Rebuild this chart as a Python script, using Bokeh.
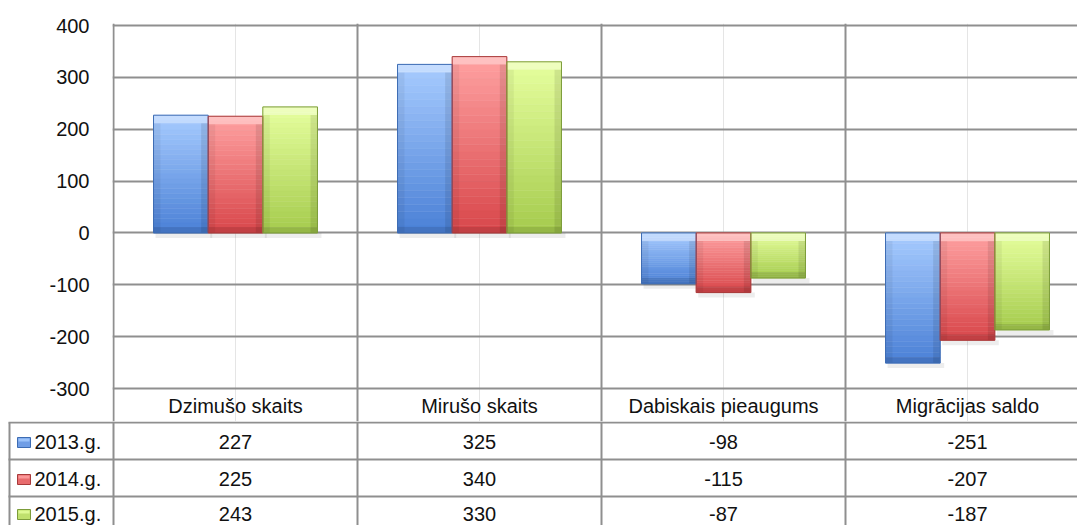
from bokeh.plotting import figure
from bokeh.models import Range1d, FixedTicker, Grid
from bokeh.core.properties import value
from bokeh.embed import file_html
from bokeh.resources import INLINE

# ---------------- data ----------------
categories = ["Dzimušo skaits", "Mirušo skaits", "Dabiskais pieaugums", "Migrācijas saldo"]
series = ["2013.g.", "2014.g.", "2015.g."]
v2013 = [227, 325, -98, -251]
v2014 = [225, 340, -115, -207]
v2015 = [243, 330, -87, -187]
y_ticks = [-300, -200, -100, 0, 100, 200, 300, 400]

values = [v2013, v2014, v2015]

# ---------------- style ----------------
top_cols = ["#a8ccff", "#ffa2a2", "#e6ff9e"]
bot_cols = ["#4a80d6", "#d8464a", "#a5cb4d"]
edge_cols = ["#3d6cb3", "#a83a3a", "#7c9c3a"]
GRID = "#8f8f8f"
FONT = "Liberation Sans"
FS = "20px"

W = 1077
LEFT = 112
CAT_W = 244.0
TOP_H = 421
FRAME_TOP = 23
BOT_H = 104
UPP = 700.0 / 363.0      # data units per pixel (y)
BAR_W = 0.224
OFFS = [-BAR_W, 0.0, BAR_W]
Y_MIN = y_ticks[0]
Y_MAX = y_ticks[-1]


def hex2rgb(h):
    h = h.lstrip("#")
    return tuple(int(h[i:i + 2], 16) for i in (0, 2, 4))


def mix(a, b, t):
    ra, rb = hex2rgb(a), hex2rgb(b)
    return "#%02x%02x%02x" % tuple(int(round(ra[i] + (rb[i] - ra[i]) * t)) for i in range(3))


p1 = figure(width=W, height=TOP_H,
            x_range=Range1d(-1.0 / CAT_W, (W - LEFT - 1) / CAT_W),
            y_range=Range1d(Y_MIN - 33 * UPP, Y_MAX + 2 * UPP),
            output_backend="svg", toolbar_location=None, x_axis_location=None,
            min_border_left=LEFT, min_border_right=0, min_border_top=FRAME_TOP,
            min_border_bottom=0)
p1.outline_line_color = None
p1.background_fill_color = "white"
p1.yaxis.ticker = FixedTicker(ticks=y_ticks)
p1.yaxis.major_label_overrides = {t: str(t) for t in y_ticks}
p1.yaxis.axis_line_color = None
p1.yaxis.major_tick_line_color = None
p1.yaxis.minor_tick_line_color = None
p1.yaxis.major_label_standoff = 17
p1.yaxis.major_label_text_font = FONT
p1.yaxis.major_label_text_font_size = FS
p1.yaxis.major_label_text_color = "#111111"
p1.ygrid.ticker = FixedTicker(ticks=y_ticks)
p1.ygrid.grid_line_color = GRID
p1.ygrid.grid_line_width = 2

vg = Grid(dimension=0, ticker=FixedTicker(ticks=list(range(len(categories)))),
          grid_line_color=GRID, grid_line_width=2)
p1.add_layout(vg)

# category header row (part of the data table, under the plot area)
p1.text(x=[j + 0.5 for j in range(len(categories))], y=[Y_MIN - 17.5 * UPP] * len(categories),
        text=categories, text_align="center", text_baseline="middle",
        text_font=value(FONT), text_font_size=value(FS), text_color="#111111")

# bars with a vertical gradient and bevel overlays
N = 24
gl, gr, gt, gb, gc = [], [], [], [], []
sl, sr, st, sb = [], [], [], []
for i, vals in enumerate(values):
    for j, v in enumerate(vals):
        cx = j + 0.5 + OFFS[i]
        l, r = cx - BAR_W / 2, cx + BAR_W / 2
        top, bot = max(v, 0), min(v, 0)
        h = top - bot
        for k in range(N):
            gl.append(l); gr.append(r)
            gt.append(top - h * k / N); gb.append(top - h * (k + 1) / N)
            gc.append(mix(top_cols[i], bot_cols[i], (k + 0.5) / N))
        sl.append(l + 2 / CAT_W); sr.append(r + 4 / CAT_W)
        st.append(bot); sb.append(bot - 5 * UPP)

p1.quad(left=sl, right=sr, top=st, bottom=sb, fill_color="#000000", fill_alpha=0.07, line_color=None)
p1.quad(left=gl, right=gr, top=gt, bottom=gb, fill_color=gc, line_color=gc, line_width=0.5)

bev_l, bev_r, bev_t, bev_b, bev_c, bev_a = [], [], [], [], [], []
for i, vals in enumerate(values):
    for j, v in enumerate(vals):
        cx = j + 0.5 + OFFS[i]
        l, r = cx - BAR_W / 2, cx + BAR_W / 2
        top, bot = max(v, 0), min(v, 0)
        bw = 7 / CAT_W
        bh = 8 * UPP
        bev_l.append(l); bev_r.append(r); bev_t.append(top); bev_b.append(top - bh)
        bev_c.append("#ffffff"); bev_a.append(0.35)
        bev_l.append(l); bev_r.append(l + bw); bev_t.append(top - bh); bev_b.append(bot)
        bev_c.append("#000000"); bev_a.append(0.05)
        bev_l.append(r - bw); bev_r.append(r); bev_t.append(top - bh); bev_b.append(bot)
        bev_c.append("#000000"); bev_a.append(0.09)
        bev_l.append(l); bev_r.append(r); bev_t.append(bot + 6 * UPP); bev_b.append(bot)
        bev_c.append("#000000"); bev_a.append(0.10)
p1.quad(left=bev_l, right=bev_r, top=bev_t, bottom=bev_b, fill_color=bev_c,
        fill_alpha=bev_a, line_color=None)

ol, orr, ot, ob, oc = [], [], [], [], []
for i, vals in enumerate(values):
    for j, v in enumerate(vals):
        cx = j + 0.5 + OFFS[i]
        ol.append(cx - BAR_W / 2); orr.append(cx + BAR_W / 2)
        ot.append(max(v, 0)); ob.append(min(v, 0)); oc.append(edge_cols[i])
p1.quad(left=ol, right=orr, top=ot, bottom=ob, fill_color=None, line_color=oc, line_width=1)

# ---------------- data table rows ----------------
p2 = figure(width=W, height=BOT_H, x_range=Range1d(0, W), y_range=Range1d(BOT_H, 0),
            output_backend="svg", toolbar_location=None,
            x_axis_location=None, y_axis_location=None, min_border=0)
p2.outline_line_color = None
p2.grid.visible = False

X0 = LEFT + 1
ROW_Y = [1, 38, 75]
TEXT_Y = [20, 57, 92]
KEY_X = 9

vx = [X0 + k * CAT_W for k in range(len(categories))]
p2.segment(x0=vx, y0=[0] * len(vx), x1=vx, y1=[BOT_H] * len(vx), line_color=GRID, line_width=2)
p2.segment(x0=[KEY_X], y0=[ROW_Y[0]], x1=[KEY_X], y1=[BOT_H], line_color=GRID, line_width=2)
p2.segment(x0=[KEY_X - 1] * 3, y0=ROW_Y, x1=[W] * 3, y1=ROW_Y, line_color=GRID, line_width=2)

cxs = [X0 + (k + 0.5) * CAT_W for k in range(len(categories))]
tx, ty, tt = [], [], []
for i, vals in enumerate(values):
    for j, v in enumerate(vals):
        tx.append(cxs[j]); ty.append(TEXT_Y[i]); tt.append(str(v))
p2.text(x=tx, y=ty, text=tt, text_align="center", text_baseline="middle",
        text_font=value(FONT), text_font_size=value(FS), text_color="#111111")

p2.text(x=[KEY_X + 25] * 3, y=TEXT_Y, text=series, text_align="left", text_baseline="middle",
        text_font=value(FONT), text_font_size=value(FS), text_color="#111111")

kl, kr, kt, kb, kc = [], [], [], [], []
for i in range(len(series)):
    yc = TEXT_Y[i] + 1
    kl.append(KEY_X + 8); kr.append(KEY_X + 21); kt.append(yc - 5); kb.append(yc + 5)
    kc.append(mix(top_cols[i], bot_cols[i], 0.6))
p2.quad(left=kl, right=kr, top=kt, bottom=kb, fill_color=kc, line_color=edge_cols, line_width=1)
p2.quad(left=[x + 1 for x in kl], right=[x - 1 for x in kr], top=[t + 1 for t in kt],
        bottom=[t + 4 for t in kt], fill_color=top_cols, line_color=None, fill_alpha=0.8)

open("out.html", "w").write(file_html([p1, p2], INLINE))
